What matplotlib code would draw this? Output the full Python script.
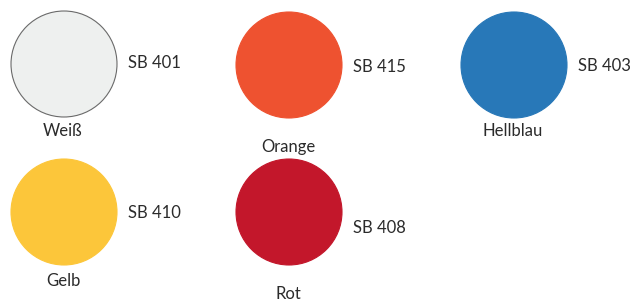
import matplotlib
matplotlib.use("Agg")
import matplotlib.pyplot as plt
from matplotlib.patches import Circle

# swatch data
names = ["Weiß", "Orange", "Hellblau", "Gelb", "Rot"]
codes = ["SB 401", "SB 415", "SB 403", "SB 410", "SB 408"]
colors = ["#eef0ef", "#ee5230", "#2878b8", "#fcc63a", "#c3172b"]

# layout (pixel coords, y down)
centers = [(64, 64), (289, 65), (514, 65), (64, 212), (289, 212)]
code_y = [63, 67, 66, 213, 228]
name_y = [131, 147, 131, 281, 294]
radius = 53

plt.rcParams['font.family'] = ['Lato', 'DejaVu Sans']

fig = plt.figure(figsize=(6.3, 3.02), dpi=100)
ax = fig.add_axes([0, 0, 1, 1])
ax.set_xlim(0, 630)
ax.set_ylim(302, 0)
ax.set_aspect('equal')
ax.axis('off')

txt = "#2b2b2b"
for i, (cx, cy) in enumerate(centers):
    edge = "#6a6a6a" if i == 0 else colors[i]
    ax.add_patch(Circle((cx, cy), radius, facecolor=colors[i],
                        edgecolor=edge, linewidth=0.8))
    ax.text(cx + 64, code_y[i], codes[i], fontsize=12, color=txt,
            ha='left', va='center')
    ax.text(cx - 1, name_y[i], names[i], fontsize=12, color=txt,
            ha='center', va='center')

fig.savefig("out.png", dpi=100)
